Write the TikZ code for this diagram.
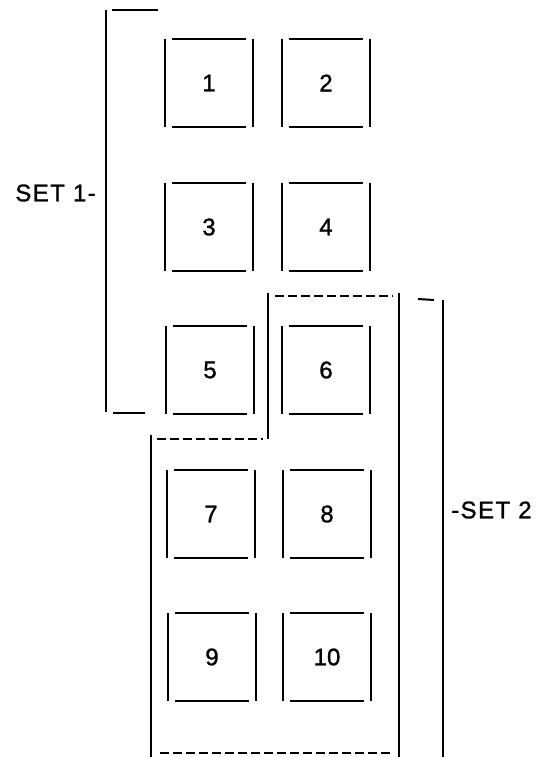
\documentclass[tikz,border=0pt]{standalone}
\usepackage{fontspec}
\usepackage{tikz}
\setmainfont{Liberation Sans}[FakeBold=1.2]
\newfontfamily\tagfont{Liberation Sans}[LetterSpace=6, FakeBold=1.2]

\tikzset{
  side/.style={line width=2pt},
  seam/.style={line width=1.6pt, dash pattern=on 9pt off 4pt},
  cell/.style={minimum width=87pt, minimum height=87pt, inner sep=0pt,
    font=\fontsize{24}{24}\selectfont},
  tag/.style={inner sep=0pt, font=\tagfont\fontsize{24}{24}\selectfont}
}

\begin{document}
\begin{tikzpicture}[x=1pt, y=-1pt]

\useasboundingbox (0,0) rectangle (541,757);

\foreach \n/\x/\y in {1/209/83, 2/326/83, 3/209/227, 4/326/227, 5/210/370,
                      6/326/370, 7/211/514, 8/327/514, 9/212/657, 10/327/657} {
  \node[cell] (c\n) at (\x,\y) {\n};
  \draw[side] (c\n.north west) -- (c\n.south west);
  \draw[side] (c\n.north east) -- (c\n.south east);
  \draw[side] ([xshift=7pt]c\n.north west) -- ([xshift=-7pt]c\n.north east);
  \draw[side] ([xshift=7pt]c\n.south west) -- ([xshift=-7pt]c\n.south east);
}

\coordinate (s1top) at (106,10);
\coordinate (s1bot) at (106,412);
\coordinate (s1end) at (158,10);
\coordinate (s1foot) at (145,413);

\draw[side] (s1top) -- (s1bot);
\draw[side] (112,10) -- (s1end);
\draw[side] (113,413) -- (s1foot);
\node[tag, anchor=east] (set1) at (96,193) {SET 1-};

\coordinate (g2nw) at (268,296);
\coordinate (g2ne) at (399,296);
\coordinate (g2step) at (268,439);
\coordinate (g2sw) at (151,439);
\coordinate (g2bl) at (151,753);
\coordinate (g2br) at (399,753);

\draw[seam] ([xshift=7pt]g2nw) -- ([xshift=-6pt]g2ne);
\draw[side] ([yshift=3pt]g2ne) -- (399,757);
\draw[side] ([yshift=3pt]g2nw) -- (g2step);
\draw[seam] ([xshift=6pt]g2sw) -- ([xshift=-5pt]g2step);
\draw[side] ([yshift=4pt]g2sw) -- (151,757);
\draw[seam] ([xshift=9pt]g2bl) -- ([xshift=-6pt]g2br);

\coordinate (s2top) at (443,300);
\draw[side] (418,299) -- ([xshift=-9pt]s2top);
\draw[side] (s2top) -- (443,757);
\node[tag, anchor=west] (set2) at (451,510) {-SET 2};

\end{tikzpicture}
\end{document}
